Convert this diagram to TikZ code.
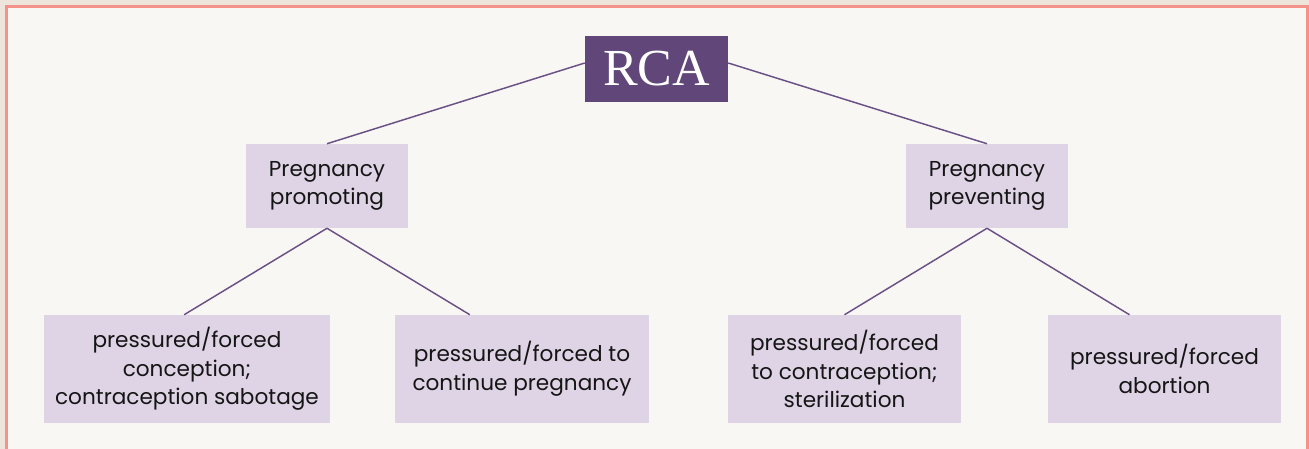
\documentclass[tikz,border=0pt]{standalone}
\usepackage{fontspec}
\setmainfont{Poppins}
\newfontfamily\rcafont{Liberation Serif}
\usetikzlibrary{positioning,calc}
\definecolor{pagebeige}{HTML}{EDE4DC}
\definecolor{canvascream}{HTML}{F8F7F4}
\definecolor{framesalmon}{HTML}{F4928A}
\definecolor{rcapurple}{HTML}{61467A}
\definecolor{boxlilac}{HTML}{DFD4E5}
\definecolor{linkpurple}{HTML}{6A5085}
\definecolor{inkblack}{HTML}{151515}

\begin{document}
\begin{tikzpicture}[x=0.75pt, y=-0.75pt,
  rootbox/.style={fill=rcapurple, text=white, inner sep=0pt,
    minimum width=107.25pt, minimum height=49.5pt,
    font=\rcafont\fontsize{39}{39}\selectfont},
  typebox/.style={fill=boxlilac, text=inkblack, align=center, inner sep=0pt,
    minimum width=121.5pt, minimum height=63pt,
    font=\fontsize{16.2}{21.5}\selectfont},
  formbox/.style={typebox, minimum height=81pt},
  link/.style={draw=linkpurple, line width=1.1pt}]

  \useasboundingbox (0,0) rectangle (1309,449);
  \fill[pagebeige] (0,0) rectangle (1309,449);
  \fill[canvascream] (5,5) rectangle (1309,449);
  \draw[framesalmon, line width=2.4pt] (6.5,449) -- (6.5,6.5) -- (1307.5,6.5) -- (1307.5,449);

  \node[rootbox] (rca) at (656.5,69) {RCA};
  \node[typebox] (promote) at (327,186) {Pregnancy\\promoting};
  \node[typebox] (prevent) at (987,186) {Pregnancy\\preventing};

  \node[formbox, minimum width=214.5pt] (conception) at (187,369)
    {pressured/forced\\conception;\\contraception sabotage};
  \node[formbox, minimum width=190.5pt] (continue) at (522,369)
    {pressured/forced to\\continue pregnancy};
  \node[formbox, minimum width=174.75pt] (sterile) at (844.5,369)
    {pressured/forced\\to contraception;\\sterilization};
  \node[formbox, minimum width=174.75pt] (abortion) at (1164.5,369)
    {pressured/forced\\abortion};

  \draw[link] ($(rca.north west)!0.41!(rca.south west)$) -- (promote.north);
  \draw[link] ($(rca.north east)!0.41!(rca.south east)$) -- (prevent.north);
  \draw[link] (promote.south) -- ($(conception.north west)!0.49!(conception.north east)$);
  \draw[link] (promote.south) -- ($(continue.north west)!0.295!(continue.north east)$);
  \draw[link] (prevent.south) -- (sterile.north);
  \draw[link] (prevent.south) -- ($(abortion.north west)!0.35!(abortion.north east)$);
\end{tikzpicture}
\end{document}
